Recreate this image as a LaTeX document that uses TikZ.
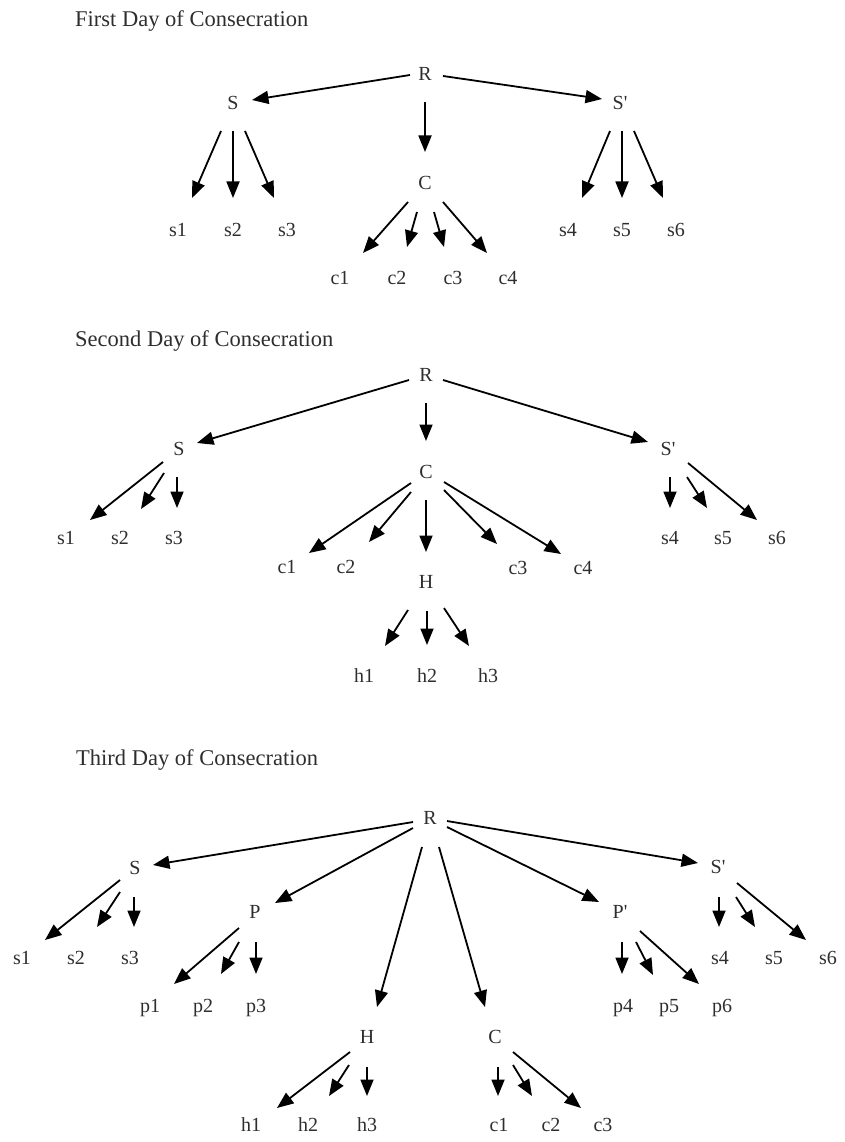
\documentclass[tikz,border=0pt]{standalone}
\usepackage{fontspec}
\setmainfont{Liberation Serif}
\usetikzlibrary{arrows.meta,calc}
\tikzset{
  lbl/.style={inner sep=0pt, text height=0.68em, text depth=0pt, font=\fontsize{20}{24}\selectfont, text=black!82},
  ttl/.style={anchor=west, inner sep=0pt, text height=0.68em, text depth=0pt, font=\fontsize{22.5}{26}\selectfont, text=black!82},
  edge/.style={line width=1.8pt, -{Triangle[length=16.5pt,width=13pt]}},
}
\newcommand\ed[4]{\draw[edge] ($(#1)+(#2)$) -- ($(#3)+(#4)$);}
\newcommand\pr{\textquotesingle}
\begin{document}
\begin{tikzpicture}[x=1pt,y=-1pt]
\useasboundingbox (0,0) rectangle (844,1142);
% ---------------- Day 1 ----------------
\node[ttl] (t1) at (75,23) {First Day of Consecration};
\node[lbl] (aR) at (425,77) {R};
\node[lbl] (aS) at (233,106) {S};
\node[lbl] (aSp) at (620,106) {S\pr};
\node[lbl] (aC) at (425,186) {C};
\node[lbl] (as1) at (178,233) {s1};
\node[lbl] (as2) at (233,233) {s2};
\node[lbl] (as3) at (287,233) {s3};
\node[lbl] (as4) at (568,233) {s4};
\node[lbl] (as5) at (622,233) {s5};
\node[lbl] (as6) at (676,233) {s6};
\node[lbl] (ac1) at (340,281) {c1};
\node[lbl] (ac2) at (397,281) {c2};
\node[lbl] (ac3) at (453,281) {c3};
\node[lbl] (ac4) at (508,281) {c4};
\ed{aR}{-15,-2}{aS}{19,-6}
\ed{aR}{0,25}{aC}{0,-34}
\ed{aR}{18,-1}{aSp}{-18,-7}
\ed{aS}{-12,25}{as1}{14,-35}
\ed{aS}{0,25}{as2}{0,-35}
\ed{aS}{12,25}{as3}{-13,-35}
\ed{aSp}{-10,25}{as4}{14,-35}
\ed{aSp}{2,25}{as5}{0,-35}
\ed{aSp}{14,25}{as6}{-13,-35}
\ed{aC}{-17,16}{ac1}{23,-28}
\ed{aC}{-8,26}{ac2}{10,-34}
\ed{aC}{9,26}{ac3}{-9,-34}
\ed{aC}{18,16}{ac4}{-21,-28}
% ---------------- Day 2 ----------------
\node[ttl] (t2) at (75,343) {Second Day of Consecration};
\node[lbl] (bR) at (426,378) {R};
\node[lbl] (bS) at (179,452) {S};
\node[lbl] (bSp) at (668,452) {S\pr};
\node[lbl] (bC) at (426,475) {C};
\node[lbl] (bH) at (426,585) {H};
\node[lbl] (bs1) at (66,541) {s1};
\node[lbl] (bs2) at (120,541) {s2};
\node[lbl] (bs3) at (174,541) {s3};
\node[lbl] (bs4) at (670,541) {s4};
\node[lbl] (bs5) at (723,541) {s5};
\node[lbl] (bs6) at (777,541) {s6};
\node[lbl] (bc1) at (287,570) {c1};
\node[lbl] (bc2) at (346,570) {c2};
\node[lbl] (bc3) at (518,571) {c3};
\node[lbl] (bc4) at (583,571) {c4};
\node[lbl] (bh1) at (364,679) {h1};
\node[lbl] (bh2) at (427,679) {h2};
\node[lbl] (bh3) at (488,679) {h3};
\ed{bR}{-17,2}{bS}{18,-9}
\ed{bR}{0,25}{bC}{0,-34}
\ed{bR}{17,2}{bSp}{-20,-10}
\ed{bS}{-16,10}{bs1}{24,-21}
\ed{bS}{-15,21}{bs2}{21,-32}
\ed{bS}{-2,25}{bs3}{3,-33}
\ed{bC}{-15,8}{bc1}{22,-17}
\ed{bC}{-15,17}{bc2}{23,-28}
\ed{bC}{0,25}{bH}{0,-33}
\ed{bC}{18,15}{bc3}{-21,-27}
\ed{bC}{18,7}{bc4}{-22,-17}
\ed{bH}{-18,25}{bh1}{21,-33}
\ed{bH}{1,26}{bh2}{0,-34}
\ed{bH}{18,23}{bh3}{-19,-33}
\ed{bSp}{2,25}{bs4}{0,-33}
\ed{bSp}{19,25}{bs5}{-16,-33}
\ed{bSp}{20,11}{bs6}{-20,-21}
% ---------------- Day 3 ----------------
\node[ttl] (t3) at (76,762) {Third Day of Consecration};
\node[lbl] (cR) at (430,821) {R};
\node[lbl] (cS) at (135,871) {S};
\node[lbl] (cP) at (255,915) {P};
\node[lbl] (cH) at (367,1040) {H};
\node[lbl] (cC) at (495,1040) {C};
\node[lbl] (cPp) at (620,915) {P\pr};
\node[lbl] (cSp) at (718,870) {S\pr};
\node[lbl] (cs1) at (22,961) {s1};
\node[lbl] (cs2) at (76,961) {s2};
\node[lbl] (cs3) at (130,961) {s3};
\node[lbl] (cp1) at (150,1009) {p1};
\node[lbl] (cp2) at (203,1009) {p2};
\node[lbl] (cp3) at (256,1009) {p3};
\node[lbl] (ch1) at (251,1128) {h1};
\node[lbl] (ch2) at (308,1128) {h2};
\node[lbl] (ch3) at (367,1128) {h3};
\node[lbl] (cc1) at (499,1128) {c1};
\node[lbl] (cc2) at (551,1128) {c2};
\node[lbl] (cc3) at (603,1128) {c3};
\node[lbl] (cp4) at (623,1009) {p4};
\node[lbl] (cp5) at (669,1009) {p5};
\node[lbl] (cp6) at (722,1009) {p6};
\node[lbl] (cs4) at (720,961) {s4};
\node[lbl] (cs5) at (774,961) {s5};
\node[lbl] (cs6) at (828,961) {s6};
\ed{cR}{-17,1}{cS}{18,-6}
\ed{cR}{-17,7}{cP}{20,-12}
\ed{cR}{-8,26}{cH}{10,-33}
\ed{cR}{9,26}{cC}{-10,-33}
\ed{cR}{17,6}{cPp}{-21,-13}
\ed{cR}{17,0}{cSp}{-20,-7}
\ed{cS}{-15,9}{cs1}{23,-21}
\ed{cS}{-15,21}{cs2}{21,-34}
\ed{cS}{-1,26}{cs3}{4,-34}
\ed{cP}{-16,13}{cp1}{24,-25}
\ed{cP}{-16,27}{cp2}{18,-35}
\ed{cP}{1,27}{cp3}{0,-35}
\ed{cH}{-17,12}{ch1}{26,-20}
\ed{cH}{-18,25}{ch2}{21,-32}
\ed{cH}{0,27}{ch3}{0,-32}
\ed{cC}{3,27}{cc1}{-1,-32}
\ed{cC}{18,25}{cc2}{-19,-32}
\ed{cC}{18,12}{cc3}{-22,-20}
\ed{cPp}{2,27}{cp4}{-1,-35}
\ed{cPp}{16,27}{cp5}{-16,-34}
\ed{cPp}{20,16}{cp6}{-23,-25}
\ed{cSp}{1,27}{cs4}{-1,-34}
\ed{cSp}{18,27}{cs5}{-19,-34}
\ed{cSp}{19,13}{cs6}{-22,-21}
\end{tikzpicture}
\end{document}
